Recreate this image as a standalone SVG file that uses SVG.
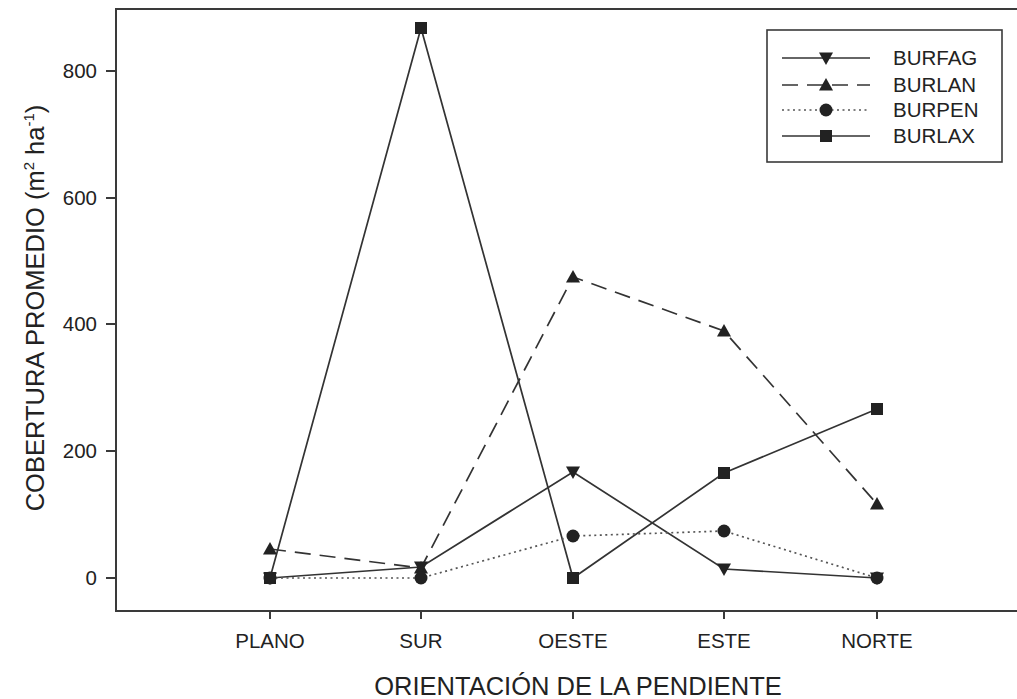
<svg xmlns="http://www.w3.org/2000/svg" width="1017" height="699" viewBox="0 0 1017 699">
<style>
text{font-family:"Liberation Sans",Arial,sans-serif;fill:#222}
.tick{font-size:20.5px}
.axis{stroke:#3a3a3a;stroke-width:2;fill:none}
.s{stroke:#333;stroke-width:1.7;fill:none}
.dash{stroke-dasharray:16 9}
.dot{stroke-dasharray:2 3.5;stroke-width:1.7;stroke:#555}
.m{fill:#222}
</style>
<defs>
<path id="tdown" d="M-7,-5.5 L7,-5.5 L0,7 Z"/>
<path id="tup" d="M-7,5.5 L7,5.5 L0,-7 Z"/>
<circle id="circ" r="6.5"/>
<rect id="sq" x="-6" y="-6" width="12" height="12"/>
</defs>
<rect width="1017" height="699" fill="#fff"/>
<g id="axes">
<path class="axis" d="M1017,9 L116,9 L116,611 L1017,611"/>
<path class="axis" stroke-width="1.5" d="M106,578H116M106,451H116M106,324H116M106,198H116M106,71H116M270,611V619M421,611V619M573,611V619M724,611V619M877,611V619"/>
<g class="tick" text-anchor="end">
<text x="97" y="585">0</text>
<text x="97" y="458">200</text>
<text x="97" y="331">400</text>
<text x="97" y="205">600</text>
<text x="97" y="78">800</text>
</g>
<g class="tick" text-anchor="middle">
<text x="270" y="648">PLANO</text>
<text x="421" y="648">SUR</text>
<text x="573" y="648">OESTE</text>
<text x="724" y="648">ESTE</text>
<text x="877" y="648">NORTE</text>
</g>
<text x="578" y="695" font-size="25.5" text-anchor="middle">ORIENTACIÓN DE LA PENDIENTE</text>
<text transform="translate(44,308) rotate(-90)" font-size="25.5" text-anchor="middle">COBERTURA PROMEDIO (m<tspan font-size="15" dy="-10">2</tspan><tspan dy="10"> ha</tspan><tspan font-size="15" dy="-10">-1</tspan><tspan dy="10">)</tspan></text>
</g>
<g id="connectors">
<polyline id="burlax-line" class="s" points="270,578 421,28 573,578 724,473 877,409"/>
<polyline id="burlan-line" class="s dash" points="270,549 421,568 573,277 724,331 877,504"/>
<polyline id="burfag-line" class="s" points="270,578 421,567 573,472 724,569 877,578"/>
<polyline id="burpen-line" class="s dot" points="270,578 421,578 573,536 724,531 877,578"/>
</g>
<g id="burlax" class="m">
<use href="#sq" x="270" y="578"/><use href="#sq" x="421" y="28"/><use href="#sq" x="573" y="578"/><use href="#sq" x="724" y="473"/><use href="#sq" x="877" y="409"/>
</g>
<g id="burlan" class="m">
<use href="#tup" x="270" y="549"/><use href="#tup" x="421" y="568"/><use href="#tup" x="573" y="277"/><use href="#tup" x="724" y="331"/><use href="#tup" x="877" y="504"/>
</g>
<g id="burfag" class="m">
<use href="#tdown" x="270" y="578"/><use href="#tdown" x="421" y="567"/><use href="#tdown" x="573" y="472"/><use href="#tdown" x="724" y="569"/><use href="#tdown" x="877" y="578"/>
</g>
<g id="burpen" class="m">
<use href="#circ" x="270" y="578"/><use href="#circ" x="421" y="578"/><use href="#circ" x="573" y="536"/><use href="#circ" x="724" y="531"/><use href="#circ" x="877" y="578"/>
</g>
<g id="legend">
<rect x="767" y="30" width="235" height="132" fill="#fff" stroke="#3a3a3a" stroke-width="1.6"/>
<line class="s" x1="782" y1="58" x2="870" y2="58"/><use href="#tdown" x="826" y="58" class="m"/>
<line class="s dash" x1="782" y1="85" x2="870" y2="85"/><use href="#tup" x="826" y="85" class="m"/>
<line class="s dot" x1="782" y1="110" x2="870" y2="110"/><use href="#circ" x="826" y="110" class="m"/>
<line class="s" x1="782" y1="136" x2="870" y2="136"/><use href="#sq" x="826" y="136" class="m"/>
<g class="tick">
<text x="893" y="65">BURFAG</text>
<text x="893" y="92">BURLAN</text>
<text x="893" y="117">BURPEN</text>
<text x="893" y="143">BURLAX</text>
</g>
</g>
</svg>
